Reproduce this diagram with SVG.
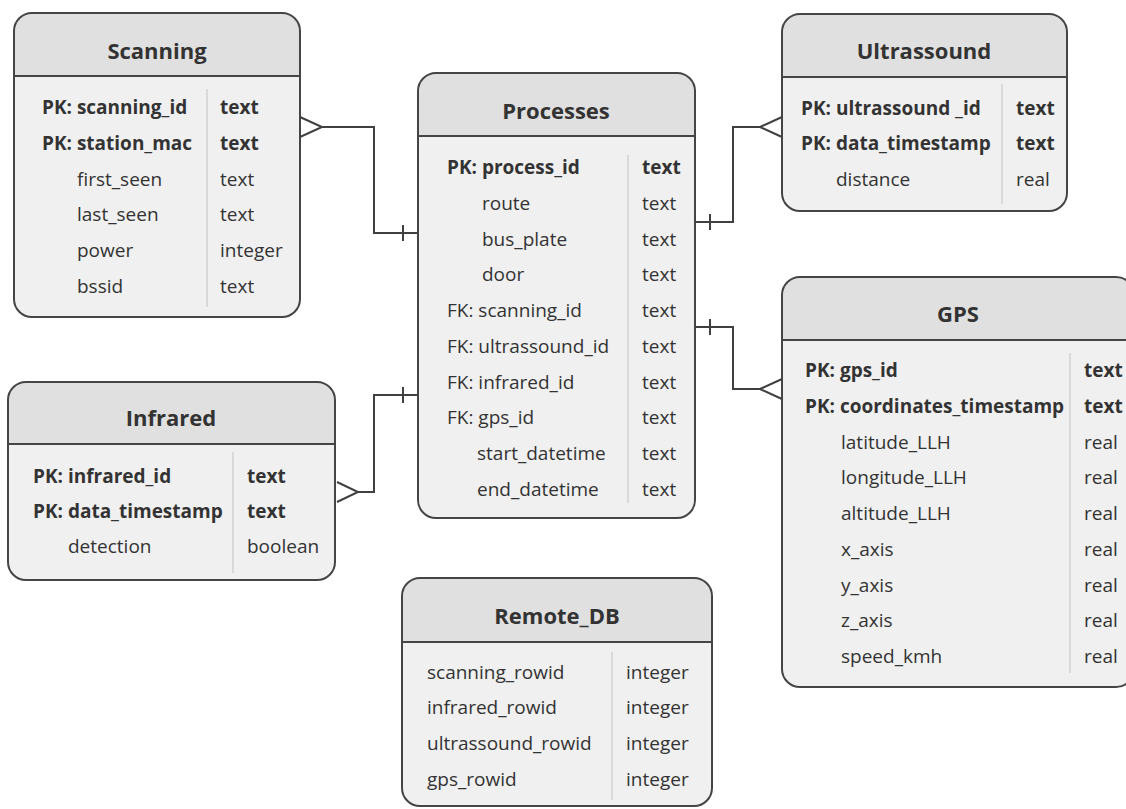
<svg xmlns="http://www.w3.org/2000/svg" width="1126" height="809" viewBox="0 0 1126 809">
  <style>
    .body { fill: #f0f0f0; }
    .head { fill: #e0e0e0; }
    .frame { fill: none; stroke: #454545; stroke-width: 2; }
    .hline { stroke: #454545; stroke-width: 2; }
    .div { stroke: #d2d2d2; stroke-width: 1.5; }
    .title { font-family: "Open Sans", "Noto Sans", sans-serif; font-size: 22px; font-weight: bold; fill: #333; text-anchor: middle; dominant-baseline: central; }
    .f { font-family: "Open Sans", "Noto Sans", sans-serif; font-size: 19px; fill: #333; dominant-baseline: central; }
    .b { font-weight: bold; }
    .conn { fill: none; stroke: #404040; stroke-width: 2; }
  </style>

  <rect width="1126" height="809" fill="#ffffff"/>

  <!-- Scanning -->
  <g id="scanning">
    <rect class="body" x="14" y="13" width="286" height="304" rx="18"/>
    <path class="head" d="M14 76 V31 A18 18 0 0 1 32 13 H282 A18 18 0 0 1 300 31 V76 Z"/>
    <line class="hline" x1="14" y1="76" x2="300" y2="76"/>
    <rect class="frame" x="14" y="13" width="286" height="304" rx="18"/>
    <text class="title" x="157" y="50">Scanning</text>
    <line class="div" x1="207" y1="89" x2="207" y2="307"/>
    <text class="f b" x="42" y="107">PK: scanning_id</text><text class="f b" x="220" y="107">text</text>
    <text class="f b" x="42" y="143">PK: station_mac</text><text class="f b" x="220" y="143">text</text>
    <text class="f" x="77" y="179">first_seen</text><text class="f" x="220" y="179">text</text>
    <text class="f" x="77" y="214">last_seen</text><text class="f" x="220" y="214">text</text>
    <text class="f" x="77" y="250">power</text><text class="f" x="220" y="250">integer</text>
    <text class="f" x="77" y="286">bssid</text><text class="f" x="220" y="286">text</text>
  </g>

  <!-- Processes -->
  <g id="processes">
    <rect class="body" x="418" y="73" width="277" height="445" rx="18"/>
    <path class="head" d="M418 136 V91 A18 18 0 0 1 436 73 H677 A18 18 0 0 1 695 91 V136 Z"/>
    <line class="hline" x1="418" y1="136" x2="695" y2="136"/>
    <rect class="frame" x="418" y="73" width="277" height="445" rx="18"/>
    <text class="title" x="556" y="110">Processes</text>
    <line class="div" x1="628" y1="155" x2="628" y2="503"/>
    <text class="f b" x="447" y="167">PK: process_id</text><text class="f b" x="642" y="167">text</text>
    <text class="f" x="482" y="203">route</text><text class="f" x="642" y="203">text</text>
    <text class="f" x="482" y="239">bus_plate</text><text class="f" x="642" y="239">text</text>
    <text class="f" x="482" y="274">door</text><text class="f" x="642" y="274">text</text>
    <text class="f" x="447" y="310">FK: scanning_id</text><text class="f" x="642" y="310">text</text>
    <text class="f" x="447" y="346">FK: ultrassound_id</text><text class="f" x="642" y="346">text</text>
    <text class="f" x="447" y="382">FK: infrared_id</text><text class="f" x="642" y="382">text</text>
    <text class="f" x="447" y="417">FK: gps_id</text><text class="f" x="642" y="417">text</text>
    <text class="f" x="477" y="453">start_datetime</text><text class="f" x="642" y="453">text</text>
    <text class="f" x="477" y="489">end_datetime</text><text class="f" x="642" y="489">text</text>
  </g>

  <!-- Ultrassound -->
  <g id="ultrassound">
    <rect class="body" x="782" y="14" width="285" height="197" rx="18"/>
    <path class="head" d="M782 77 V32 A18 18 0 0 1 800 14 H1049 A18 18 0 0 1 1067 32 V77 Z"/>
    <line class="hline" x1="782" y1="77" x2="1067" y2="77"/>
    <rect class="frame" x="782" y="14" width="285" height="197" rx="18"/>
    <text class="title" x="924" y="50">Ultrassound</text>
    <line class="div" x1="1002" y1="84" x2="1002" y2="204"/>
    <text class="f b" x="801" y="108">PK: ultrassound _id</text><text class="f b" x="1016" y="108">text</text>
    <text class="f b" x="801" y="143">PK: data_timestamp</text><text class="f b" x="1016" y="143">text</text>
    <text class="f" x="836" y="179">distance</text><text class="f" x="1016" y="179">real</text>
  </g>

  <!-- GPS -->
  <g id="gps">
    <rect class="body" x="782" y="277" width="352" height="410" rx="18"/>
    <path class="head" d="M782 340 V295 A18 18 0 0 1 800 277 H1116 A18 18 0 0 1 1134 295 V340 Z"/>
    <line class="hline" x1="782" y1="340" x2="1134" y2="340"/>
    <rect class="frame" x="782" y="277" width="352" height="410" rx="18"/>
    <text class="title" x="958" y="313">GPS</text>
    <line class="div" x1="1070" y1="353" x2="1070" y2="673"/>
    <text class="f b" x="805" y="370">PK: gps_id</text><text class="f b" x="1084" y="370">text</text>
    <text class="f b" x="805" y="406">PK: coordinates_timestamp</text><text class="f b" x="1084" y="406">text</text>
    <text class="f" x="841" y="442">latitude_LLH</text><text class="f" x="1084" y="442">real</text>
    <text class="f" x="841" y="477">longitude_LLH</text><text class="f" x="1084" y="477">real</text>
    <text class="f" x="841" y="513">altitude_LLH</text><text class="f" x="1084" y="513">real</text>
    <text class="f" x="841" y="549">x_axis</text><text class="f" x="1084" y="549">real</text>
    <text class="f" x="841" y="585">y_axis</text><text class="f" x="1084" y="585">real</text>
    <text class="f" x="841" y="620">z_axis</text><text class="f" x="1084" y="620">real</text>
    <text class="f" x="841" y="656">speed_kmh</text><text class="f" x="1084" y="656">real</text>
  </g>

  <!-- Infrared -->
  <g id="infrared">
    <rect class="body" x="8" y="382" width="327" height="198" rx="18"/>
    <path class="head" d="M8 444 V400 A18 18 0 0 1 26 382 H317 A18 18 0 0 1 335 400 V444 Z"/>
    <line class="hline" x1="8" y1="444" x2="335" y2="444"/>
    <rect class="frame" x="8" y="382" width="327" height="198" rx="18"/>
    <text class="title" x="171" y="417">Infrared</text>
    <line class="div" x1="233" y1="452" x2="233" y2="573"/>
    <text class="f b" x="33" y="476">PK: infrared_id</text><text class="f b" x="247" y="476">text</text>
    <text class="f b" x="33" y="511">PK: data_timestamp</text><text class="f b" x="247" y="511">text</text>
    <text class="f" x="68" y="546">detection</text><text class="f" x="247" y="546">boolean</text>
  </g>

  <!-- Remote_DB -->
  <g id="remote_db">
    <rect class="body" x="402" y="578" width="310" height="228" rx="18"/>
    <path class="head" d="M402 642 V596 A18 18 0 0 1 420 578 H694 A18 18 0 0 1 712 596 V642 Z"/>
    <line class="hline" x1="402" y1="642" x2="712" y2="642"/>
    <rect class="frame" x="402" y="578" width="310" height="228" rx="18"/>
    <text class="title" x="557" y="615">Remote_DB</text>
    <line class="div" x1="612" y1="652" x2="612" y2="800"/>
    <text class="f" x="427" y="672">scanning_rowid</text><text class="f" x="626" y="672">integer</text>
    <text class="f" x="427" y="707">infrared_rowid</text><text class="f" x="626" y="707">integer</text>
    <text class="f" x="427" y="743">ultrassound_rowid</text><text class="f" x="626" y="743">integer</text>
    <text class="f" x="427" y="779">gps_rowid</text><text class="f" x="626" y="779">integer</text>
  </g>

  <!-- Relationships: one (bar) on Processes, many (crow's foot) on the sensor tables -->
  <g id="connectors">
    <!-- Scanning - Processes -->
    <path class="conn" d="M322 127 H374 V233 H418"/>
    <path class="conn" d="M300 117 L322 127 L300 137"/>
    <line class="conn" x1="403" y1="225" x2="403" y2="241"/>
    <!-- Infrared - Processes -->
    <path class="conn" d="M358 492 H374 V395 H418"/>
    <path class="conn" d="M337 482 L358 492 L337 502"/>
    <line class="conn" x1="403" y1="387" x2="403" y2="403"/>
    <!-- Ultrassound - Processes -->
    <path class="conn" d="M695 222 H733 V127 H760"/>
    <path class="conn" d="M782 117 L760 127 L782 137"/>
    <line class="conn" x1="710" y1="214" x2="710" y2="230"/>
    <!-- GPS - Processes -->
    <path class="conn" d="M695 327 H733 V389 H760"/>
    <path class="conn" d="M782 379 L760 389 L782 399"/>
    <line class="conn" x1="710" y1="319" x2="710" y2="335"/>
  </g>
</svg>
